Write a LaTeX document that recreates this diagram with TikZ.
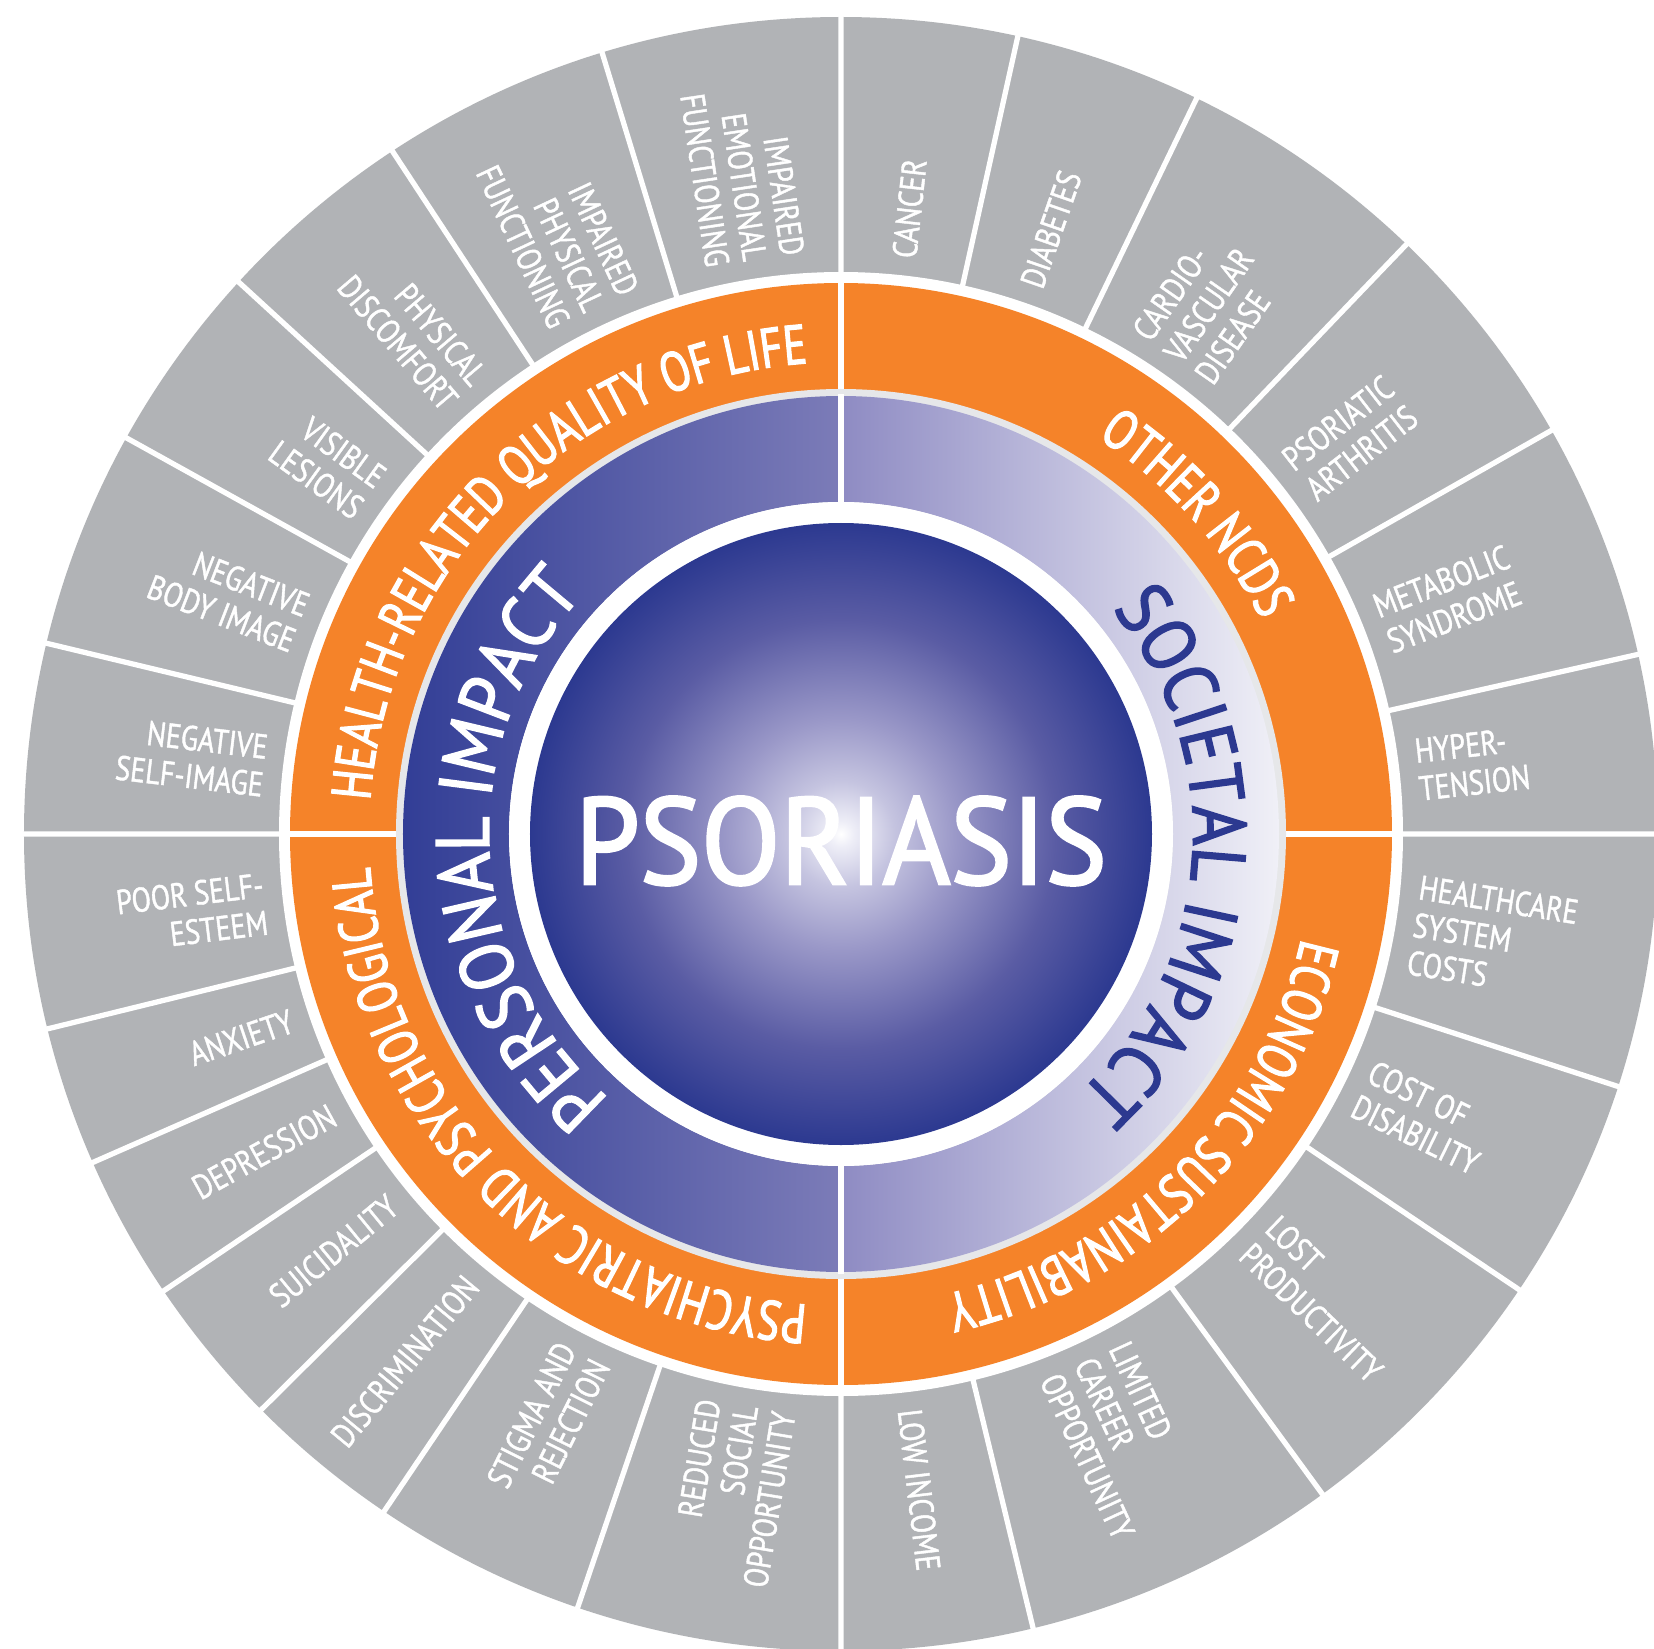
\documentclass[tikz,border=0pt]{standalone}
\usepackage{fontspec}
\setmainfont{PT Sans}
\newfontfamily\labfam{PT Sans}[FakeStretch=0.82, FakeBold=1.2]
\newfontfamily\ringfam{PT Sans}[FakeStretch=0.78, FakeBold=2.2]
\newfontfamily\impfam{PT Sans}[FakeStretch=0.9, FakeBold=2.0]
\newfontfamily\psofam{PT Sans}[FakeStretch=0.94, FakeBold=2.2]
\usetikzlibrary{decorations.text}

\definecolor{wheelgray}{HTML}{B1B3B6}
\definecolor{wheelorange}{HTML}{F58329}
\definecolor{rimgray}{HTML}{E6E7E9}
\definecolor{persdark}{HTML}{323E96}
\definecolor{persmid}{HTML}{7C7CB8}
\definecolor{socmid}{HTML}{8E8BC3}
\definecolor{soclight}{HTML}{F0F0F7}
\definecolor{psoblue}{HTML}{2C3990}
\definecolor{psoA}{HTML}{EEEEF7}
\definecolor{psoB}{HTML}{C5C4E0}
\definecolor{psoC}{HTML}{9A98C8}
\definecolor{psoD}{HTML}{5A5CA4}

\pgfdeclareradialshading{psoball}{\pgfpoint{0bp}{0bp}}{color(0bp)=(white); color(1bp)=(psoA); color(4.25bp)=(psoB); color(9.25bp)=(psoC); color(17.25bp)=(psoD); color(25bp)=(psoblue); color(50bp)=(psoblue)}

\newcommand\labfont{\labfam\fontsize{9.8}{10.8}\selectfont}
\newcommand\ringfont{\ringfam\fontsize{15.8}{18}\selectfont}
\newcommand\impfont{\impfam\fontsize{21.5}{24}\selectfont}
\newcommand\psofont{\psofam\fontsize{35}{40}\selectfont}

\tikzset{
  seglabel/.style={font=\labfont, text=white, inner sep=2pt},
  outlabel/.style={seglabel, anchor=west, align=left},
  inlabel/.style={seglabel, anchor=east, align=right},
  divider/.style={draw=white, line width=1.5pt},
  ringdiv/.style={draw=white, line width=1.8pt},
}

\begin{document}
\begin{tikzpicture}
\useasboundingbox (-8.41,-8.14) rectangle (8.13,8.34);
\clip (-8.41,-8.14) rectangle (8.13,8.34);
\fill[white] (-8.41,-8.14) rectangle (8.13,8.34);

% outer ring of segments
\fill[wheelgray] (0,0) circle (8.17);
\path[divider]
  (90:5.5) -- (90:8.3)
  (77.5:5.5) -- (77.5:8.3)
  (64.2:5.5) -- (64.2:8.3)
  (46.2:5.5) -- (46.2:8.3)
  (29.6:5.5) -- (29.6:8.3)
  (12.7:5.5) -- (12.7:8.3)
  (0:5.5) -- (0:8.3)
  (-18:5.5) -- (-18:8.3)
  (-33.9:5.5) -- (-33.9:8.3)
  (-53.9:5.5) -- (-53.9:8.3)
  (-76.4:5.5) -- (-76.4:8.3)
  (-90:5.5) -- (-90:8.3)
  (-108.8:5.5) -- (-108.8:8.3)
  (-124:5.5) -- (-124:8.3)
  (-135.2:5.5) -- (-135.2:8.3)
  (-146:5.5) -- (-146:8.3)
  (-156.3:5.5) -- (-156.3:8.3)
  (-166.2:5.5) -- (-166.2:8.3)
  (180:5.5) -- (180:8.3)
  (166.5:5.5) -- (166.5:8.3)
  (151:5.5) -- (151:8.3)
  (137.5:5.5) -- (137.5:8.3)
  (123.3:5.5) -- (123.3:8.3)
  (107:5.5) -- (107:8.3);

% orange ring
\fill[white] (0,0) circle (5.62);
\fill[wheelorange] (0,0) circle (5.51);
\path[ringdiv] (0,4.4) -- (0,5.6) (4.4,0) -- (5.6,0) (0,-4.4) -- (0,-5.6) (-4.4,0) -- (-5.6,0);
\fill[rimgray] (0,0) circle (4.45);

% impact ring
\shade[left color=persdark, right color=persmid] (90:4.38) arc (90:270:4.38) -- (270:3.32) arc (270:90:3.32) -- cycle;
\shade[left color=socmid, right color=soclight] (90:4.38) arc (90:-90:4.38) -- (-90:3.32) arc (-90:90:3.32) -- cycle;
\path[ringdiv] (0,3.3) -- (0,4.4) (0,-3.3) -- (0,-4.4);

% centre
\fill[white] (0,0) circle (3.32);
\shade[shading=psoball] (0,0) circle (3.11);
\node[font=\psofont, text=white, anchor=base, inner sep=0pt] (psoriasis) at (0,-0.50) {PSORIASIS};

% ring titles
\path[decorate, decoration={text along path, text color=white, text align=center, text={|\ringfont|HEALTH-RELATED QUALITY OF LIFE}}] (180:4.72) arc (180:90:4.72);
\path[decorate, decoration={text along path, text color=white, text align=center, text={|\ringfont|OTHER NCDS}}] (87:4.72) arc (87:-3:4.72);
\path[decorate, decoration={text along path, text color=white, text align=center, text={|\ringfont|ECONOMIC SUSTAINABILITY}}] (0:4.72) arc (0:-90:4.72);
\path[decorate, decoration={text along path, text color=white, text align=center, text={|\ringfont|PSYCHIATRIC AND PSYCHOLOGICAL}}] (-90:4.72) arc (-90:-180:4.72);
\path[decorate, decoration={text along path, text color=white, text align=center, text={|\impfont|PERSONAL IMPACT}}] (-87:3.52) arc (-87:-267:3.52);
\path[decorate, decoration={text along path, text color=psoblue, text align=center, text={|\impfont|SOCIETAL IMPACT}}] (86:3.52) arc (86:-94:3.52);

% segment labels, right half
\node[outlabel, rotate=83.75] (cancer) at (83.75:5.72) {CANCER};
\node[outlabel, rotate=70.85] (diabetes) at (70.85:5.72) {DIABETES};
\node[outlabel, rotate=55.2] (cardio) at (55.2:5.72) {CARDIO-\\VASCULAR\\DISEASE};
\node[outlabel, rotate=37.9] (arthritis) at (37.9:5.72) {PSORIATIC\\ARTHRITIS};
\node[outlabel, rotate=21.15] (metabolic) at (21.15:5.72) {METABOLIC\\SYNDROME};
\node[outlabel, rotate=6.35] (hypertension) at (6.35:5.72) {HYPER-\\TENSION};
\node[outlabel, rotate=-9] (healthcare) at (-9:5.72) {HEALTHCARE\\SYSTEM\\COSTS};
\node[outlabel, rotate=-25.95] (disability) at (-25.95:5.72) {COST OF\\DISABILITY};
\node[outlabel, rotate=-43.9] (productivity) at (-43.9:5.72) {LOST\\PRODUCTIVITY};
\node[outlabel, rotate=-65.15] (career) at (-65.15:5.72) {LIMITED\\CAREER\\OPPORTUNITY};
\node[outlabel, rotate=-83.2] (income) at (-83.2:5.72) {LOW INCOME};

% segment labels, left half
\node[inlabel, rotate=80.6] (social) at (-99.4:5.72) {REDUCED\\SOCIAL\\OPPORTUNITY};
\node[inlabel, rotate=63.6] (stigma) at (-116.4:5.72) {STIGMA AND\\REJECTION};
\node[inlabel, rotate=50.4] (discrimination) at (-129.6:5.72) {DISCRIMINATION};
\node[inlabel, rotate=39.4] (suicidality) at (-140.6:5.72) {SUICIDALITY};
\node[inlabel, rotate=28.85] (depression) at (-151.15:5.72) {DEPRESSION};
\node[inlabel, rotate=18.75] (anxiety) at (-161.25:5.72) {ANXIETY};
\node[inlabel, rotate=6.9] (selfesteem) at (-173.1:5.72) {POOR SELF-\\ESTEEM};
\node[inlabel, rotate=-6.75] (selfimage) at (173.25:5.72) {NEGATIVE\\SELF-IMAGE};
\node[inlabel, rotate=-21.25] (bodyimage) at (158.75:5.72) {NEGATIVE\\BODY IMAGE};
\node[inlabel, rotate=-35.75] (lesions) at (144.25:5.72) {VISIBLE\\LESIONS};
\node[inlabel, rotate=-49.6] (discomfort) at (130.4:5.72) {PHYSICAL\\DISCOMFORT};
\node[inlabel, rotate=-64.85] (physical) at (115.15:5.72) {IMPAIRED\\PHYSICAL\\FUNCTIONING};
\node[inlabel, rotate=-81.5] (emotional) at (98.5:5.72) {IMPAIRED\\EMOTIONAL\\FUNCTIONING};
\end{tikzpicture}
\end{document}
